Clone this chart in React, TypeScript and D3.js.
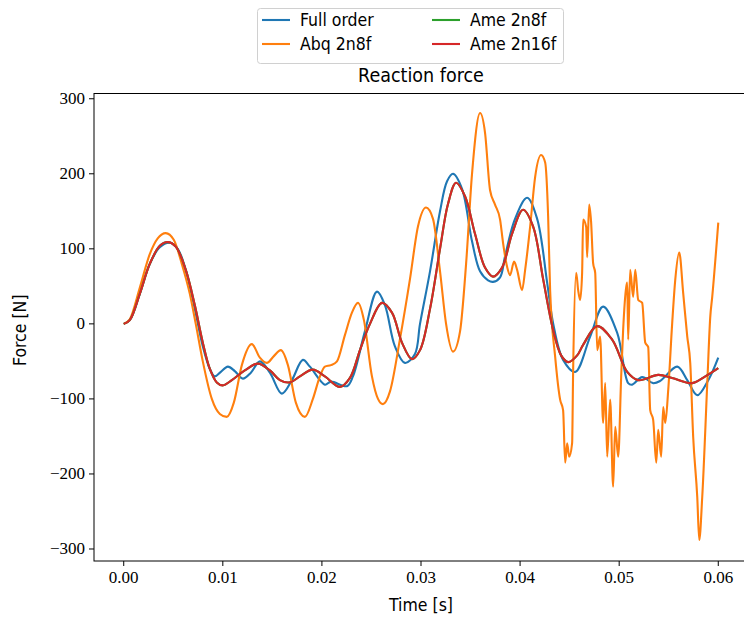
import React from "react";
import * as d3 from "d3";

// time in ms
const fullT = [0,0.61,1.62,2.63,3.64,4.65,5.45,6.26,7.17,7.98,8.69,9.19,9.8,10.51,11.21,12.02,12.83,13.74,14.75,15.96,16.97,18.08,18.79,20.3,20.91,22.53,23.13,24.34,25.56,26.36,27.37,28.38,29.39,29.9,30.91,31.92,32.63,33.23,34.14,35.15,35.96,36.77,37.27,37.98,38.48,39.49,40.71,41.72,42.73,43.33,44.34,45.56,47.07,48.38,49.8,50.91,51.31,52.32,53.43,54.14,55.86,56.87,57.88,58.99,60];
const fullV = [0,5,40,80,102,108,100,72,20,-30,-60,-70,-64,-57,-63,-73,-65,-50,-65,-93,-75,-48,-57,-81,-77,-83,-70,-10,43,25,-30,-52,-40,0,70,150,190,200,180,110,70,58,56,62,90,140,168,140,55,1,-48,-64,-17,23,-12,-79,-81,-71,-79,-76,-57,-75,-95,-75,-45];

const abqT = [0,0.61,1.62,2.63,3.43,4.24,5.05,5.86,6.67,7.27,7.98,8.89,9.7,10.4,11.11,11.92,12.93,13.74,14.44,15.15,15.86,16.57,17.37,18.28,19.09,19.8,20.3,20.91,21.52,22.32,23.03,23.64,24.24,25.05,25.66,26.16,26.87,27.88,28.89,29.7,30.51,31.21,31.92,32.53,33.23,33.94,34.55,35.15,35.96,36.46,36.97,37.47,37.98,38.28,38.69,38.99,39.39,39.7,40.2,40.51,41.01,41.52,42.12,42.53,42.83,43.03,43.54,44.04,44.34,44.55,44.75,44.95,45.25,45.35,45.66,45.86,46.06,46.26,46.36,46.67,46.77,46.97,47.17,47.37,47.58,47.78,48.08,48.38,48.59,48.79,49.09,49.39,49.6,49.9,50.2,50.4,50.71,50.81,50.91,51.11,51.41,51.62,51.92,52.32,52.63,52.93,53.13,53.43,53.74,53.94,54.24,54.44,54.65,54.95,55.35,55.66,56.06,56.46,56.87,57.17,57.47,57.88,58.08,58.38,58.89,59.19,59.39,60];
const abqV = [0,6,48,93,114,121,112,80,40,0,-50,-100,-120,-124,-105,-55,-27,-45,-52,-43,-35,-55,-105,-124,-100,-70,-57,-55,-50,-15,15,28,5,-70,-100,-107,-90,-20,60,130,155,140,70,0,-37,-10,80,200,281,255,178,159,139,108,76,65,83,72,45,72,129,196,225,215,143,45,-44,-101,-115,-185,-159,-177,-159,-65,68,45,32,68,139,129,89,159,135,81,68,-35,-17,-132,-79,-177,-101,-217,-137,-177,-71,-8,49,55,-21,72,36,72,32,28,-25,-31,-115,-128,-185,-141,-177,-111,-132,-88,1,59,95,41,-17,-52,-151,-231,-288,-231,-79,9,36,135];

const ameT = [0,0.61,1.62,2.63,3.64,4.44,5.25,6.26,7.17,7.98,8.69,9.39,10.0,10.91,12.22,13.54,14.75,15.76,16.77,17.78,19.09,20.3,21.82,22.83,23.84,24.85,26.06,27.07,28.08,29.09,29.9,30.91,31.92,32.73,33.54,34.44,35.45,36.46,37.27,38.18,39.19,40.3,41.31,42.32,43.33,44.14,44.85,45.76,46.36,47.78,49.29,50.81,51.92,53.94,55.35,57.37,58.69,60];
const ame16V = [0,5,40,80,104,109,103,72,25,-25,-60,-78,-82,-75,-62,-53,-62,-75,-78,-70,-61,-70,-84,-72,-35,0,28,15,-25,-47,-35,20,100,160,188,170,120,75,63,75,120,152,130,60,-8,-42,-51,-42,-28,-3,-21,-64,-75,-68,-72,-79,-70,-59];
const ame8V = [0,5,40,80,104,109,103,72,25,-25,-60,-78,-82,-75,-62,-53,-62,-75,-78,-70,-61,-70,-84,-72,-35,0,28,15,-25,-47,-35,20,100,160,188,170,120,75,63,75,120,152,130,60,-8,-42,-51,-42,-28,-3,-21,-64,-75,-68,-72,-79,-70,-59];

const xTicks = [0, 0.01, 0.02, 0.03, 0.04, 0.05, 0.06];
const yTicks = [-300, -200, -100, 0, 100, 200, 300];
const legendLabels = ["Full order", "Abq 2n8f", "Ame 2n8f", "Ame 2n16f"];
const colors = ["#1f77b4", "#ff7f0e", "#2ca02c", "#d62728"];

const W = 744, H = 621;
const left = 94, right = 748, top = 93.5, bottom = 561;
const SANS = "'DejaVu Sans Condensed', 'DejaVu Sans', sans-serif";
const SERIF = "'Liberation Serif', 'DejaVu Serif', 'Times New Roman', serif";

export default function App() {
  const x = d3.scaleLinear().domain([-0.003, 0.063]).range([left, right]);
  const y = d3.scaleLinear().domain([-316, 307]).range([bottom, top]);
  const mk = (t: number[], v: number[]) => t.map((ti, i) => [ti / 1000, v[i]] as [number, number]);
  const smooth = d3.line<[number, number]>().x(d => x(d[0])).y(d => y(d[1])).curve(d3.curveCatmullRom.alpha(0.5));
  const jag = d3.line<[number, number]>().x(d => x(d[0])).y(d => y(d[1])).curve(d3.curveMonotoneX);
  const series = [
    { d: smooth(mk(fullT, fullV)), c: colors[0] },
    { d: jag(mk(abqT, abqV)), c: colors[1] },
    { d: smooth(mk(ameT, ame8V)), c: colors[2] },
    { d: smooth(mk(ameT, ame16V)), c: colors[3] },
  ];
  const legendPos = [
    { lx: 262, ly: 20 }, { lx: 262, ly: 44 }, { lx: 432, ly: 20 }, { lx: 432, ly: 44 },
  ];
  return (
    <svg width={W} height={H} style={{ position: "absolute", left: 0, top: 0, background: "#fff" }}>
      <defs>
        <clipPath id="plotclip">
          <rect x={left} y={top} width={right - left} height={bottom - top} />
        </clipPath>
      </defs>
      <g clipPath="url(#plotclip)">
        {series.map((s, i) => (
          <path key={i} d={s.d || ""} fill="none" stroke={s.c} strokeWidth={2.1} strokeLinejoin="round" />
        ))}
      </g>
      <rect x={left} y={top} width={right - left} height={bottom - top} fill="none" stroke="#000" strokeWidth={1} />
      {xTicks.map(t => (
        <g key={t}>
          <line x1={x(t)} x2={x(t)} y1={bottom} y2={bottom + 5} stroke="#000" />
          <text x={x(t)} y={bottom + 22} textAnchor="middle" style={{ fontFamily: SERIF, fontSize: 17 }}>{t.toFixed(2)}</text>
        </g>
      ))}
      {yTicks.map(t => (
        <g key={t}>
          <line x1={left - 5} x2={left} y1={y(t)} y2={y(t)} stroke="#000" />
          <text x={left - 9} y={y(t) + 5.5} textAnchor="end" style={{ fontFamily: SERIF, fontSize: 17 }}>{t < 0 ? "\u2212" + Math.abs(t) : String(t)}</text>
        </g>
      ))}
      <text x={(left + right) / 2} y={611} textAnchor="middle" style={{ fontFamily: SANS, fontSize: 17.5 }}>Time [s]</text>
      <text transform={`translate(26, ${(top + bottom) / 2 + 3}) rotate(-90)`} textAnchor="middle" style={{ fontFamily: SANS, fontSize: 17.5 }}>Force [N]</text>
      <text x={(left + right) / 2} y={82} textAnchor="middle" style={{ fontFamily: SANS, fontSize: 19.5 }}>Reaction force</text>
      <rect x={257.5} y={8.5} width={306} height={55} rx={3} fill="#fff" stroke="#d0d0d0" strokeWidth={1} />
      {legendLabels.map((l, i) => (
        <g key={l}>
          <line x1={legendPos[i].lx} x2={legendPos[i].lx + 28} y1={legendPos[i].ly} y2={legendPos[i].ly} stroke={colors[i]} strokeWidth={2.1} />
          <text x={legendPos[i].lx + 38} y={legendPos[i].ly + 6} style={{ fontFamily: SANS, fontSize: 17.5 }}>{l}</text>
        </g>
      ))}
    </svg>
  );
}
